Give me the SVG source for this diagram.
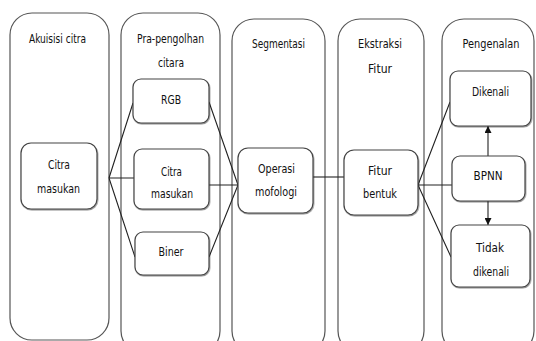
<svg xmlns="http://www.w3.org/2000/svg" width="536" height="341" viewBox="0 0 536 341">
<defs>
<marker id="ah" viewBox="0 0 10 10" refX="10" refY="5" markerWidth="7" markerHeight="7" orient="auto" markerUnits="userSpaceOnUse">
<path d="M0,0 L10,5 L0,10 z" fill="#111"/>
</marker>
<filter id="sh" x="-10%" y="-10%" width="130%" height="130%">
<feDropShadow dx="0.6" dy="1" stdDeviation="0.5" flood-color="#000" flood-opacity="0.45"/>
</filter>
</defs>
<style>
.col{fill:#fff;stroke:#555;stroke-width:1.2}
.box{fill:#fff;stroke:#444;stroke-width:1.2;filter:url(#sh)}
.t{font-family:"Liberation Sans Narrow","DejaVu Sans Condensed","Liberation Sans",sans-serif;font-size:13px;fill:#111;text-anchor:middle}
.c{stroke:#222;stroke-width:1.1;fill:none}
</style>
<rect width="536" height="341" fill="#fff"/>
<g id="col-akuisisi">
<rect class="col" x="10" y="13" width="99" height="327" rx="22"/>
<text class="t" x="57.5" y="43" textLength="57" lengthAdjust="spacingAndGlyphs">Akuisisi citra</text>
</g>
<g id="col-pra">
<rect class="col" x="121" y="13" width="99" height="340" rx="22"/>
<text class="t" x="170.5" y="43" textLength="67" lengthAdjust="spacingAndGlyphs">Pra-pengolhan</text>
<text class="t" x="171" y="67" textLength="26" lengthAdjust="spacingAndGlyphs">citara</text>
</g>
<g id="col-segmentasi">
<rect class="col" x="232" y="19" width="93" height="334" rx="22"/>
<text class="t" x="278.5" y="48" textLength="53" lengthAdjust="spacingAndGlyphs">Segmentasi</text>
</g>
<g id="col-ekstraksi">
<rect class="col" x="338" y="19" width="86" height="334" rx="22"/>
<text class="t" x="380" y="48" textLength="44" lengthAdjust="spacingAndGlyphs">Ekstraksi</text>
<text class="t" x="380" y="73" textLength="24" lengthAdjust="spacingAndGlyphs">Fitur</text>
</g>
<g id="col-pengenalan">
<rect class="col" x="442" y="19" width="92" height="334" rx="22"/>
<text class="t" x="491" y="48" textLength="57" lengthAdjust="spacingAndGlyphs">Pengenalan</text>
</g>
<g id="connectors">
<path class="c" d="M109,178 L133,103 M109,178 L134,178 M109,178 L135,257"/>
<path class="c" d="M209,102 L238,185 M209,185 L238,185 M209,257 L238,185"/>
<path class="c" d="M313,177 L344,177"/>
<path class="c" d="M418,185 L450,102 M418,185 L452,185 M418,185 L451,257"/>
<path class="c" d="M488,156 L488,126" marker-end="url(#ah)"/>
<path class="c" d="M488,201 L488,225" marker-end="url(#ah)"/>
</g>
<g id="n-citra1">
<rect class="box" x="21" y="143" width="76" height="66" rx="10"/>
<text class="t" x="59" y="169" textLength="22" lengthAdjust="spacingAndGlyphs">Citra</text>
<text class="t" x="58.5" y="193" textLength="43" lengthAdjust="spacingAndGlyphs">masukan</text>
</g>
<g id="n-rgb">
<rect class="box" x="133" y="79" width="76" height="44" rx="8"/>
<text class="t" x="171" y="104" textLength="20" lengthAdjust="spacingAndGlyphs">RGB</text>
</g>
<g id="n-citra2">
<rect class="box" x="134" y="149" width="75" height="60" rx="8"/>
<text class="t" x="171.5" y="176" textLength="21" lengthAdjust="spacingAndGlyphs">Citra</text>
<text class="t" x="172" y="198" textLength="42" lengthAdjust="spacingAndGlyphs">masukan</text>
</g>
<g id="n-biner">
<rect class="box" x="135" y="232" width="74" height="43" rx="8"/>
<text class="t" x="171" y="256" textLength="25" lengthAdjust="spacingAndGlyphs">Biner</text>
</g>
<g id="n-operasi">
<rect class="box" x="238" y="148" width="75" height="65" rx="10"/>
<text class="t" x="276.5" y="173" textLength="37" lengthAdjust="spacingAndGlyphs">Operasi</text>
<text class="t" x="276" y="196" textLength="42" lengthAdjust="spacingAndGlyphs">mofologi</text>
</g>
<g id="n-fitur">
<rect class="box" x="344" y="150" width="74" height="65" rx="10"/>
<text class="t" x="380" y="175" textLength="24" lengthAdjust="spacingAndGlyphs">Fitur</text>
<text class="t" x="380" y="198" textLength="34" lengthAdjust="spacingAndGlyphs">bentuk</text>
</g>
<g id="n-dikenali">
<rect class="box" x="450" y="71" width="81" height="55" rx="8"/>
<text class="t" x="490.5" y="96" textLength="37" lengthAdjust="spacingAndGlyphs">Dikenali</text>
</g>
<g id="n-bpnn">
<rect class="box" x="452" y="156" width="73" height="45" rx="8"/>
<text class="t" x="488" y="180" textLength="29" lengthAdjust="spacingAndGlyphs">BPNN</text>
</g>
<g id="n-tidak">
<rect class="box" x="451" y="225" width="79" height="62" rx="8"/>
<text class="t" x="490" y="252" textLength="28" lengthAdjust="spacingAndGlyphs">Tidak</text>
<text class="t" x="491" y="276" textLength="36" lengthAdjust="spacingAndGlyphs">dikenali</text>
</g>
</svg>
